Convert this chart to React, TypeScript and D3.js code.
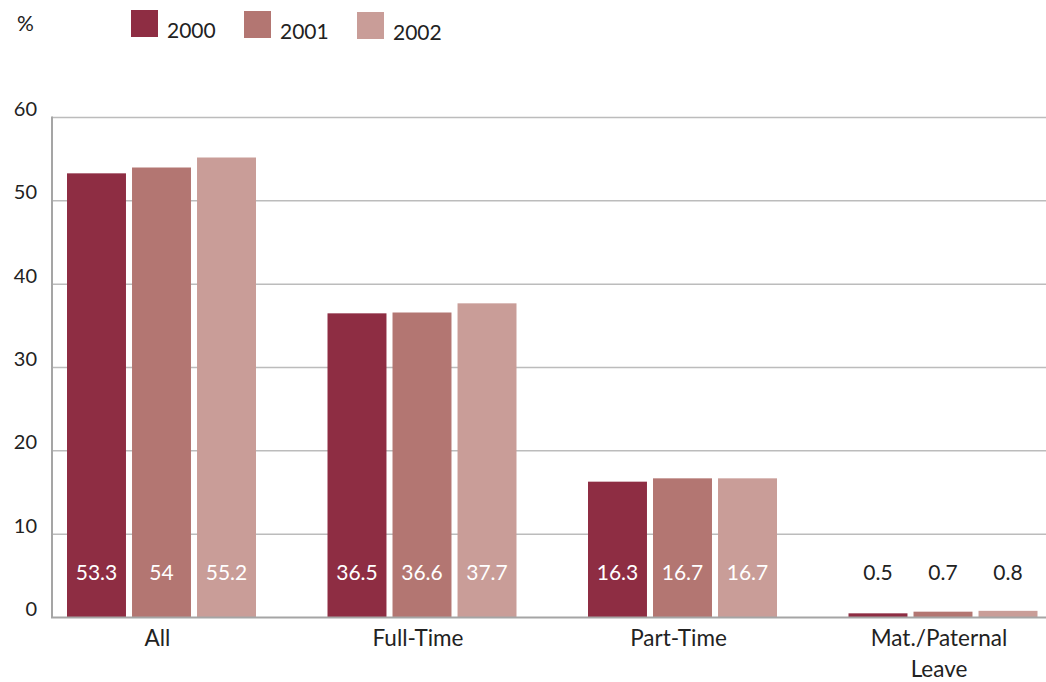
import * as d3 from "d3";

const categories = ["All", "Full-Time", "Part-Time", "Mat./Paternal Leave"];
const years = ["2000", "2001", "2002"];
const v2000 = [53.3, 36.5, 16.3, 0.5];
const v2001 = [54, 36.6, 16.7, 0.7];
const v2002 = [55.2, 37.7, 16.7, 0.8];
const yTicks = [0, 10, 20, 30, 40, 50, 60];

const COLORS = ["#8E2D43", "#B37672", "#C99D98"];
const FONT = "Lato, 'Open Sans', sans-serif";
const W = 1046;
const H = 682;

export default function App() {
  const series = [v2000, v2001, v2002];
  const mg = { l: 52, t: 117.5, b: 617.5 };

  const y = d3.scaleLinear().domain([0, 60]).range([mg.b, mg.t]);
  const x0 = d3
    .scaleBand<string>()
    .domain(categories)
    .range([mg.l, 1052.5])
    .paddingInner(0.2745)
    .paddingOuter(0.0576);
  const x1 = d3
    .scaleBand<string>()
    .domain(years)
    .range([0, x0.bandwidth()])
    .paddingInner(0.093);

  // labels sit inside tall bars (white) or above tiny ones (dark)
  const labelY = 580;

  return (
    <svg
      width={W}
      height={H}
      style={{ position: "absolute", left: 0, top: 0, background: "#fff" }}
      fontFamily={FONT}
    >
      <text x={17} y={31} fontSize={21} fill="#222">%</text>

      {/* legend */}
      {years.map((yr, i) => {
        const lx = [131, 244, 357][i];
        return (
          <g key={yr}>
            <rect x={lx} y={10 + i} width={27} height={27} fill={COLORS[i]} />
            <text x={lx + 36} y={38 + i} fontSize={21} fill="#222">{yr}</text>
          </g>
        );
      })}

      {/* grid */}
      {yTicks.filter((t) => t > 0).map((t) => (
        <line key={t} x1={mg.l} x2={W} y1={y(t)} y2={y(t)} stroke="#bcbcbc" strokeWidth={1.5} />
      ))}
      {yTicks.map((t) => (
        <text key={t} x={37} y={y(t) - 1.5} fontSize={20} fill="#222" textAnchor="end">
          {t}
        </text>
      ))}

      {/* bars */}
      {categories.map((c, ci) => (
        <g key={c} transform={`translate(${x0(c)},0)`}>
          {years.map((yr, si) => {
            const v = series[si][ci];
            const bx = x1(yr)!;
            const top = y(v);
            const inside = top < labelY - 25;
            return (
              <g key={yr}>
                <rect x={bx} y={top} width={x1.bandwidth()} height={mg.b - top} fill={COLORS[si]} />
                <text
                  x={bx + x1.bandwidth() / 2}
                  y={labelY}
                  fontSize={21}
                  textAnchor="middle"
                  fill={inside ? "#fff" : "#222"}
                >
                  {v}
                </text>
              </g>
            );
          })}
        </g>
      ))}

      {/* axes */}
      <line x1={mg.l} x2={mg.l} y1={mg.t - 1} y2={mg.b} stroke="#a5a5a5" strokeWidth={2} />
      <line x1={mg.l - 1} x2={W} y1={mg.b} y2={mg.b} stroke="#a5a5a5" strokeWidth={2} />

      {/* category labels */}
      {categories.map((c) => {
        const cx = x0(c)! + x0.bandwidth() / 2 - 4;
        const lines = c === "Mat./Paternal Leave" ? ["Mat./Paternal", "Leave"] : [c];
        return (
          <text key={c} x={cx} y={646} fontSize={22.5} textAnchor="middle" fill="#222">
            {lines.map((l, i) => (
              <tspan key={l} x={cx} dy={i === 0 ? 0 : 31}>{l}</tspan>
            ))}
          </text>
        );
      })}
    </svg>
  );
}
